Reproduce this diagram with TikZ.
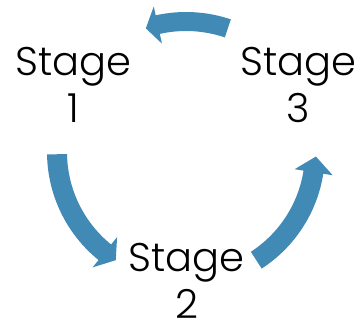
\documentclass[tikz,border=0pt]{standalone}
\usepackage{fontspec}
\setmainfont{Poppins Light}
\definecolor{cyc}{HTML}{418AB5}
\begin{document}
\begin{tikzpicture}[x=1pt,y=1pt,
  stagetext/.style={inner sep=0pt,align=center,font=\fontsize{40}{47}\selectfont},
  cycarrow/.style={fill=cyc,draw=none}]
\useasboundingbox (-186,-169) rectangle (177,152);
% arrows: tail angle, head base angle, tip angle
\fill[cycarrow] (181:139) arc[start angle=181,end angle=231,radius=139]
  -- (231:148.5) -- (237:129) -- (231:109.5) -- (231:119)
  arc[start angle=231,end angle=181,radius=119] -- cycle;
\fill[cycarrow] (303:139) arc[start angle=303,end angle=351,radius=139]
  -- (351:148.5) -- (358:130) -- (351:110) -- (351:119)
  arc[start angle=351,end angle=303,radius=119] -- cycle;
\fill[cycarrow] (71.3:140) arc[start angle=71.3,end angle=102.5,radius=140]
  -- (102.5:149) -- (108:130) -- (102.5:111) -- (102.5:121)
  arc[start angle=102.5,end angle=71.3,radius=121] -- cycle;
\node[stagetext] (s1) at (-112.5,67.5) {Stage\\1};
\node[stagetext] (s3) at (112.5,67.5) {Stage\\3};
\node[stagetext] (s2) at (0.5,-128.5) {Stage\\2};
\end{tikzpicture}
\end{document}
